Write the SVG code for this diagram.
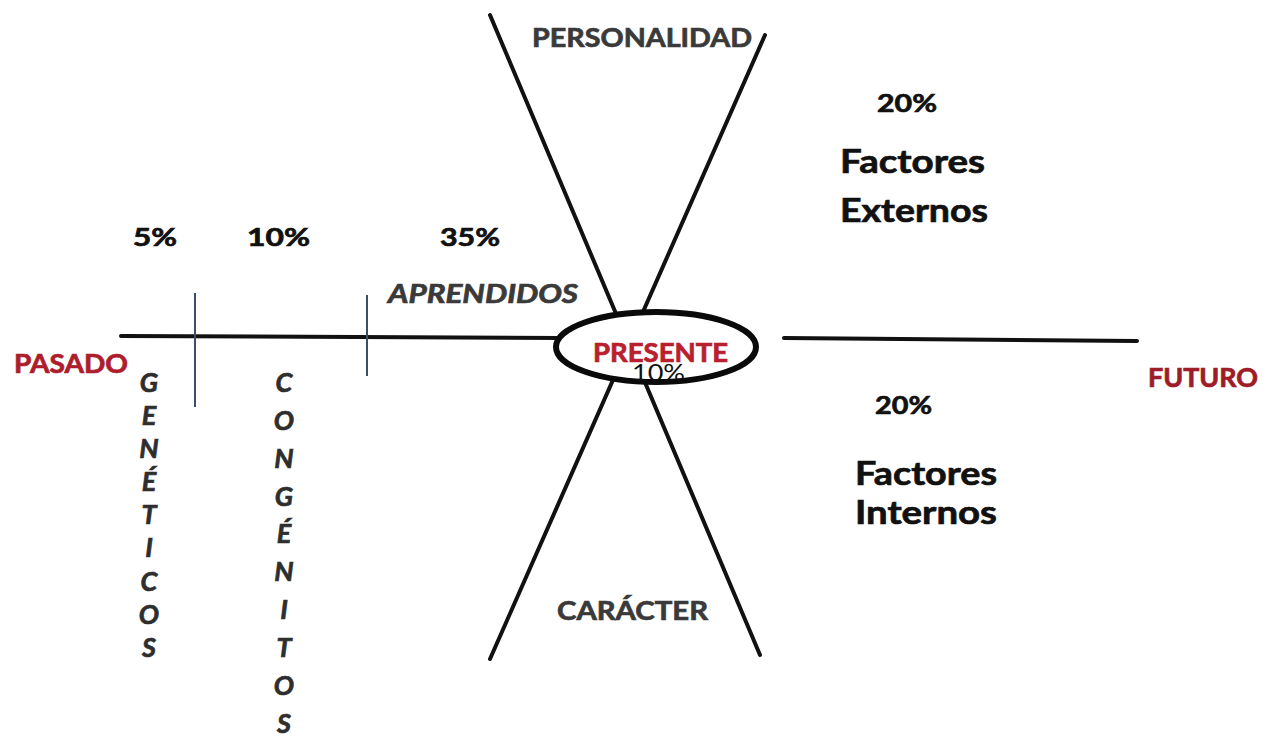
<svg xmlns="http://www.w3.org/2000/svg" width="1266" height="737" viewBox="0 0 1266 737">
<style>
text{font-family:Lato,"Open Sans","Liberation Sans",sans-serif;font-weight:bold;stroke-width:0.7px;paint-order:stroke}
.blk{fill:#111;stroke:#111}
.gry{fill:#3a3a3a;stroke:#3a3a3a}
.red{fill:#ad1d2c;stroke:#ad1d2c}
.it{font-style:italic}
.ln{stroke:#111;stroke-width:4;stroke-linecap:round;fill:none}
.tick{stroke:#3b4d68;stroke-width:2;fill:none}
.pct{font-size:25px}
.fac{font-size:33px}
.lab{font-size:26px}
.ltr{font-size:27px;fill:#2e2e2e;stroke:#2e2e2e;font-style:italic;text-anchor:middle}
</style>
<rect width="1266" height="737" fill="#ffffff"/>
<g id="connectors">
<line class="ln" x1="121" y1="336" x2="560" y2="338"/>
<line class="ln" x1="784" y1="338" x2="1137" y2="341"/>
<line class="ln" x1="490" y1="15" x2="760" y2="655"/>
<line class="ln" x1="765" y1="35" x2="490" y2="659"/>
<line class="tick" x1="195" y1="293" x2="195" y2="407"/>
<line class="tick" x1="367" y1="295" x2="367" y2="376"/>
</g>
<g id="personalidad"><text class="lab gry" x="532" y="47" textLength="220" lengthAdjust="spacingAndGlyphs">PERSONALIDAD</text></g>
<g id="caracter"><text class="lab gry" x="557" y="620" textLength="151" lengthAdjust="spacingAndGlyphs">CARÁCTER</text></g>
<g id="presente">
<ellipse cx="656" cy="347" rx="100" ry="35" fill="#ffffff" stroke="#0a0a0a" stroke-width="6"/>
<text class="lab red" x="593" y="362" textLength="135" lengthAdjust="spacingAndGlyphs" style="fill:#b8202e;stroke:#b8202e">PRESENTE</text>
<text x="632" y="381" style="font-weight:normal;font-size:24px;fill:#111;stroke:none" textLength="53" lengthAdjust="spacingAndGlyphs">10%</text>
</g>
<g id="pasado"><text class="lab red" x="14" y="373" textLength="114" lengthAdjust="spacingAndGlyphs">PASADO</text></g>
<g id="futuro"><text class="lab red" x="1148" y="387" textLength="110" lengthAdjust="spacingAndGlyphs" style="fill:#9e1b28;stroke:#9e1b28">FUTURO</text></g>
<g id="pct-geneticos"><text class="pct blk" x="133" y="246" textLength="44" lengthAdjust="spacingAndGlyphs">5%</text></g>
<g id="pct-congenitos"><text class="pct blk" x="247" y="246" textLength="63" lengthAdjust="spacingAndGlyphs">10%</text></g>
<g id="pct-aprendidos"><text class="pct blk" x="440" y="246" textLength="60" lengthAdjust="spacingAndGlyphs">35%</text></g>
<g id="aprendidos"><text class="lab gry it" x="388" y="303" textLength="190" lengthAdjust="spacingAndGlyphs">APRENDIDOS</text></g>
<g id="externos">
<text class="pct blk" x="877" y="112" textLength="60" lengthAdjust="spacingAndGlyphs">20%</text>
<text class="fac blk" x="840" y="173" textLength="145" lengthAdjust="spacingAndGlyphs">Factores</text>
<text class="fac blk" x="840" y="222" textLength="148" lengthAdjust="spacingAndGlyphs">Externos</text>
</g>
<g id="internos">
<text class="pct blk" x="875" y="414" textLength="57" lengthAdjust="spacingAndGlyphs">20%</text>
<text class="fac blk" x="855" y="485" textLength="142" lengthAdjust="spacingAndGlyphs">Factores</text>
<text class="fac blk" x="855" y="524" textLength="142" lengthAdjust="spacingAndGlyphs">Internos</text>
</g>
<g id="geneticos">
<text class="ltr" x="149" y="392">G</text>
<text class="ltr" x="149" y="425">E</text>
<text class="ltr" x="149" y="458">N</text>
<text class="ltr" x="149" y="491">É</text>
<text class="ltr" x="149" y="524">T</text>
<text class="ltr" x="149" y="557">I</text>
<text class="ltr" x="149" y="591">C</text>
<text class="ltr" x="149" y="624">O</text>
<text class="ltr" x="149" y="657">S</text>
</g>
<g id="congenitos">
<text class="ltr" x="284" y="392">C</text>
<text class="ltr" x="284" y="430">O</text>
<text class="ltr" x="284" y="468">N</text>
<text class="ltr" x="284" y="506">G</text>
<text class="ltr" x="284" y="543">É</text>
<text class="ltr" x="284" y="581">N</text>
<text class="ltr" x="284" y="619">I</text>
<text class="ltr" x="284" y="657">T</text>
<text class="ltr" x="284" y="695">O</text>
<text class="ltr" x="284" y="733">S</text>
</g>
</svg>
